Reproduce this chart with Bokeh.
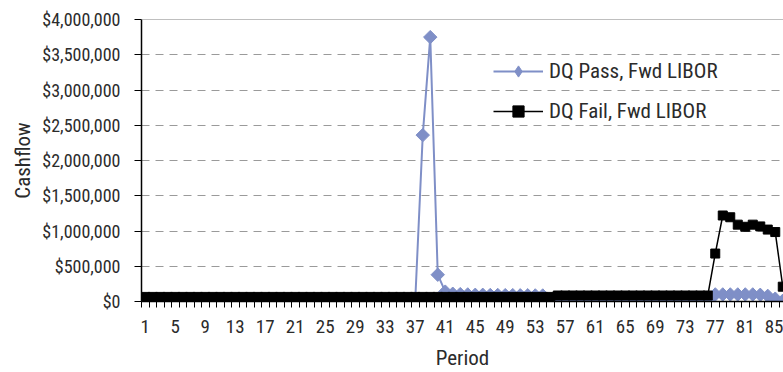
import math
from bokeh.plotting import figure
from bokeh.models import (ColumnDataSource, FixedTicker, NumeralTickFormatter,
                          Legend, LegendItem, Span, Range1d)
from bokeh.embed import file_html
from bokeh.resources import INLINE

# Monthly cashflow by period, two delinquency scenarios under forward LIBOR
periods = list(range(1, 87))

dq_pass = (
    [20000] * 36
    + [20000, 2360000, 3750000, 380000, 140000, 110000, 105000, 100000]
    + [95000, 95000, 92000, 92000, 90000, 90000, 88000, 88000, 86000, 85000]
    + [25000] * 20
    + [0, 20000]
    + [100000, 100000, 100000, 100000, 100000, 100000, 95000, 80000, 40000, 10000]
)

dq_fail = (
    [65000] * 55
    + [85000] * 21
    + [680000, 1220000, 1195000, 1090000, 1060000, 1090000, 1065000,
       1020000, 985000, 210000]
)

y_ticks = [0, 500000, 1000000, 1500000, 2000000, 2500000, 3000000, 3500000, 4000000]
x_label_ticks = list(range(1, 87, 4))

FONT = "Roboto Condensed"
BLUE = "#7f8fc7"
TEXT = "#2b2b2b"

src = ColumnDataSource(dict(period=periods, dq_pass=dq_pass, dq_fail=dq_fail))
# legend-key source: one point left of the visible range
key_src = ColumnDataSource(dict(period=[-10], v=[0]))

p = figure(width=783, height=372, output_backend="svg", toolbar_location=None,
           x_range=Range1d(0.5, 86.1), y_range=Range1d(0, 4000000),
           min_border_left=141, min_border_right=0, min_border_top=19,
           min_border_bottom=71)
p.outline_line_color = None
p.background_fill_color = "white"
p.border_fill_color = "white"

# gridlines
p.xgrid.grid_line_color = None
p.ygrid.grid_line_color = "#9a9a9a"
p.ygrid.grid_line_dash = "8 6"
p.ygrid.grid_line_width = 1
p.add_layout(Span(location=4000000, dimension="width", line_color="#808080",
                  line_width=1))

# y axis
p.yaxis.ticker = FixedTicker(ticks=y_ticks)
p.yaxis.formatter = NumeralTickFormatter(format="$0,0")
p.yaxis.axis_label = "Cashflow"
p.yaxis.axis_label_text_font = FONT
p.yaxis.axis_label_text_font_size = "21px"
p.yaxis.axis_label_text_font_style = "normal"
p.yaxis.axis_label_text_color = TEXT
p.yaxis.axis_label_standoff = 4
p.yaxis.major_label_text_font = FONT
p.yaxis.major_label_text_font_size = "18px"
p.yaxis.major_label_text_color = TEXT
p.yaxis.major_tick_out = 7
p.yaxis.major_tick_in = 0
p.yaxis.minor_tick_line_color = None
p.yaxis.major_label_standoff = 14
p.yaxis.axis_line_color = "black"
p.yaxis.axis_line_width = 1.5

# x axis: labels every 4 periods, tick marks between every period
p.xaxis.ticker = FixedTicker(ticks=x_label_ticks,
                             minor_ticks=[i + 0.5 for i in range(0, 87)])
p.xaxis.axis_label = "Period"
p.xaxis.axis_label_text_font = FONT
p.xaxis.axis_label_text_font_size = "21px"
p.xaxis.axis_label_text_font_style = "normal"
p.xaxis.axis_label_text_color = TEXT
p.xaxis.axis_label_standoff = 10
p.xaxis.major_label_text_font = FONT
p.xaxis.major_label_text_font_size = "19px"
p.xaxis.major_label_text_color = TEXT
p.xaxis.major_tick_line_color = None
p.xaxis.major_tick_out = 6
p.xaxis.major_tick_in = 0
p.xaxis.minor_tick_out = 6
p.xaxis.minor_tick_in = 0
p.xaxis.minor_tick_line_color = "black"
p.xaxis.major_label_standoff = 12
p.xaxis.axis_line_color = "black"
p.xaxis.axis_line_width = 1.5

# series
pass_line = p.line("period", "dq_pass", source=src, line_color=BLUE, line_width=2)
pass_pts = p.scatter("period", "dq_pass", source=src, marker="square", size=9.5,
                     angle=math.pi / 4, fill_color=BLUE, line_color=BLUE)
fail_line = p.line("period", "dq_fail", source=src, line_color="black", line_width=1.5)
fail_pts = p.scatter("period", "dq_fail", source=src, marker="square", size=9,
                     fill_color="black", line_color="black")

# legend swatches (diamond key for the blue series)
key_pass_line = p.line("period", "v", source=key_src, line_color=BLUE, line_width=2)
key_pass_pt = p.scatter("period", "v", source=key_src, marker="diamond",
                        fill_color=BLUE, line_color=BLUE)
key_fail_line = p.line("period", "v", source=key_src, line_color="black", line_width=1.5)
key_fail_pt = p.scatter("period", "v", source=key_src, marker="square",
                        fill_color="black", line_color="black")

legend = Legend(items=[
    LegendItem(label="DQ Pass, Fwd LIBOR", renderers=[key_pass_line, key_pass_pt]),
    LegendItem(label="DQ Fail, Fwd LIBOR", renderers=[key_fail_line, key_fail_pt]),
], location=(352, 176))
legend.border_line_color = None
legend.background_fill_alpha = 0
legend.label_text_font = FONT
legend.label_text_font_size = "21px"
legend.label_text_color = TEXT
legend.glyph_width = 50
legend.glyph_height = 28
legend.label_height = 27
legend.label_standoff = 6
legend.spacing = 12
legend.padding = 0
legend.margin = 0
p.add_layout(legend)

open("out.html", "w").write(file_html(p, INLINE))
